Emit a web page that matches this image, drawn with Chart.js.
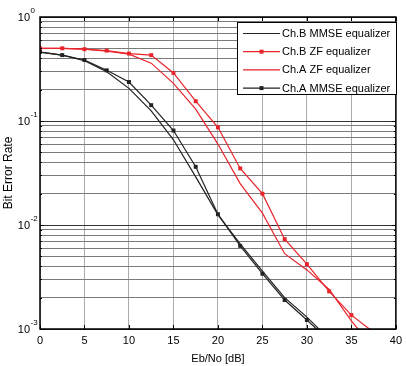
<!DOCTYPE html>
<html>
<head>
<meta charset="utf-8">
<script src="https://cdn.jsdelivr.net/npm/chart.js@4"></script>
<style>
  html, body { margin: 0; padding: 0; background: #fff; }
  #wrap { width: 407px; height: 366px; }
</style>
</head>
<body>
<div id="wrap"><canvas id="linechart__ber"></canvas></div>
<script>
// BER curves, Eb/No in dB
const snrDb = [0, 2.5, 5, 7.5, 10, 12.5, 15, 17.5, 20, 22.5, 25, 27.5, 30, 32.5, 35, 37.5];
const chB_mmse = [0.46, 0.43, 0.38, 0.298, 0.206, 0.125, 0.066, 0.029, 0.0125, 0.0066, 0.0036, 0.002, 0.0013, 0.0008];
const chB_zf = [0.5, 0.5, 0.49, 0.475, 0.445, 0.43, 0.29, 0.155, 0.087, 0.035, 0.02, 0.0073, 0.0042, 0.0023, 0.00136, 0.00093];
const chA_zf = [0.5, 0.5, 0.49, 0.47, 0.44, 0.36, 0.23, 0.13, 0.06, 0.025, 0.013, 0.0053, 0.0037, 0.0024, 0.0012, 0.00065];
const chA_mmse = [0.46, 0.43, 0.386, 0.307, 0.237, 0.142, 0.081, 0.0363, 0.0127, 0.0063, 0.0034, 0.0019, 0.00122, 0.00077];
const yExponents = [0, -1, -2, -3];
const minorSteps = [1, 2, 3, 4, 5, 6, 7, 8, 9];

const FONT = "'Liberation Sans', Arial, sans-serif";
const RED = '#e8232a';
const BLACK = '#222';

function pts(arr) {
    return arr.map((v, i) => ({ x: snrDb[i], y: v }));
}

// legend drawn inside the plot, MATLAB style
const boxPlugin = {
    id: 'boxPlugin',
    afterDraw(chart) {
        const c = chart.ctx;
        const a = chart.chartArea;
        const xs = chart.scales.x;
        const ys = chart.scales.y;
        c.save();

        // inward ticks
        c.strokeStyle = '#000';
        c.lineWidth = 1;
        c.beginPath();
        for (let v = 0; v <= 40; v += 5) {
            const px = Math.round(xs.getPixelForValue(v)) + 0.5;
            c.moveTo(px, a.bottom); c.lineTo(px, a.bottom - 4);
            c.moveTo(px, a.top); c.lineTo(px, a.top + 4);
        }
        yExponents.forEach(e => {
            minorSteps.forEach(m => {
                const v = m * Math.pow(10, e - 1);
                if (v < 1e-3 || v > 1) return;
                const py = Math.round(ys.getPixelForValue(v)) + 0.5;
                const len = m === 1 ? 4 : 2;
                c.moveTo(a.left, py); c.lineTo(a.left + len, py);
                c.moveTo(a.right, py); c.lineTo(a.right - len, py);
            });
        });
        c.stroke();

        // frame
        c.lineWidth = 1.5;
        c.strokeRect(a.left, a.top, a.right - a.left, a.bottom - a.top);

        // y tick labels 10^e
        c.fillStyle = '#000';
        yExponents.forEach(e => {
            const py = ys.getPixelForValue(Math.pow(10, e));
            c.font = '11px ' + FONT;
            c.textAlign = 'right';
            c.textBaseline = 'middle';
            c.fillText('10', 30, py + 1);
            c.font = '8px ' + FONT;
            c.textAlign = 'left';
            c.fillText(String(e), 30.5, py - 6);
        });

        // legend
        const lx = 237, ly = 22, lw = 159, lh = 72;
        c.fillStyle = '#fff';
        c.fillRect(lx, ly, lw, lh);
        c.lineWidth = 1;
        c.strokeStyle = '#000';
        c.strokeRect(lx + 0.5, ly + 0.5, lw, lh);
        chart.data.datasets.forEach((ds, i) => {
            const ry = 33.5 + i * 18.2;
            c.strokeStyle = ds.borderColor;
            c.lineWidth = 1.2;
            c.beginPath();
            c.moveTo(243, ry); c.lineTo(280, ry);
            c.stroke();
            if (ds.pointRadius > 0) {
                c.fillStyle = ds.borderColor;
                c.fillRect(259.5, ry - 2, 4, 4);
            }
            c.fillStyle = '#000';
            c.font = '11px ' + FONT;
            c.textAlign = 'left';
            c.textBaseline = 'middle';
            c.fillText(ds.label, 282, ry + 0.5);
        });
        c.restore();
    }
};

let ctx__ber = document.getElementById('linechart__ber').getContext('2d');
new Chart(ctx__ber, {
    type: 'line',
    data: {
        datasets: [
            { label: 'Ch.B MMSE equalizer', data: pts(chB_mmse), borderColor: BLACK, backgroundColor: BLACK, pointRadius: 0 },
            { label: 'Ch.B ZF equalizer', data: pts(chB_zf), borderColor: RED, backgroundColor: RED, pointRadius: 2.8 },
            { label: 'Ch.A ZF equalizer', data: pts(chA_zf), borderColor: RED, backgroundColor: RED, pointRadius: 0 },
            { label: 'Ch.A MMSE equalizer', data: pts(chA_mmse), borderColor: BLACK, backgroundColor: BLACK, pointRadius: 2.8 }
        ]
    },
    options: {
        responsive: true,
        maintainAspectRatio: false,
        animation: false,
        layout: { padding: { top: 17, right: 8, left: 0, bottom: 0 } },
        elements: {
            line: { borderWidth: 1.2, tension: 0 },
            point: { pointStyle: 'rect', borderWidth: 0, hoverRadius: 0 }
        },
        datasets: { line: { clip: 0 } },
        plugins: {
            legend: { display: false },
            tooltip: { enabled: false }
        },
        scales: {
            x: {
                type: 'linear',
                min: 0,
                max: 40,
                afterFit: s => { s.height = 37; },
                ticks: { stepSize: 5, color: '#000', padding: 5, font: { family: FONT, size: 11 } },
                grid: { color: 'rgba(0,0,0,0.33)', drawTicks: false },
                border: { display: false },
                title: { display: true, text: 'Eb/No [dB]', color: '#000', padding: 0, font: { family: FONT, size: 11 } }
            },
            y: {
                type: 'logarithmic',
                min: 1e-3,
                max: 1,
                afterFit: s => { s.width = 40; },
                afterBuildTicks: s => {
                    const t = [];
                    yExponents.slice().reverse().forEach(e => {
                        minorSteps.forEach(m => {
                            const v = m * Math.pow(10, e);
                            if (v <= 1) t.push({ value: v, major: m === 1 });
                        });
                    });
                    s.ticks = t;
                },
                ticks: { display: false, autoSkip: false },
                grid: {
                    drawTicks: false,
                    color: c => (c.tick && c.tick.major ? '#333' : '#7a7a7a')
                },
                border: { display: false },
                title: { display: true, text: 'Bit Error Rate', color: '#000', padding: { top: 1, bottom: 0 }, font: { family: FONT, size: 12 } }
            }
        }
    },
    plugins: [boxPlugin]
});
</script>
</body>
</html>
